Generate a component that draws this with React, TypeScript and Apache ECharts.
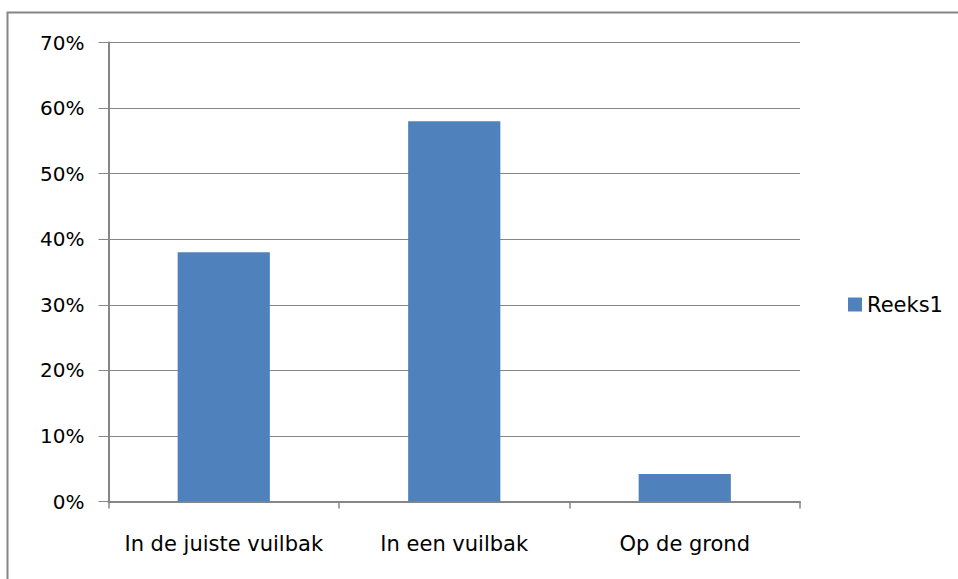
import React, { useEffect, useRef } from "react";
import * as echarts from "echarts";

const categories = ["In de juiste vuilbak", "In een vuilbak", "Op de grond"];
const seriesName = "Reeks1";
const values = [0.38, 0.58, 0.042];
const yMax = 0.7;
const yInterval = 0.1;

export default function App() {
  const ref = useRef<HTMLDivElement>(null);
  useEffect(() => {
    if (!ref.current) return;
    const chart = echarts.init(ref.current, undefined, { renderer: "svg" });
    const font = "DejaVu Sans";
    chart.setOption({
      animation: false,
      backgroundColor: "#ffffff",
      grid: { left: 108.5, right: 158, top: 42.5, bottom: 77.5, containLabel: false },
      legend: {
        data: [seriesName],
        left: 843,
        top: 289,
        icon: "rect",
        itemWidth: 14,
        itemHeight: 14,
        itemGap: 5,
        textStyle: { fontFamily: font, fontSize: 21, color: "#000" },
      },
      xAxis: {
        type: "category",
        data: categories,
        axisLine: { lineStyle: { color: "#868686", width: 2 } },
        axisTick: { show: true, interval: 0, length: 7, lineStyle: { color: "#868686", width: 1.5 } },
        axisLabel: { interval: 0, fontFamily: font, fontSize: 21, color: "#000", margin: 32 },
      },
      yAxis: {
        type: "value",
        min: 0,
        max: yMax,
        interval: yInterval,
        axisLine: { show: true, lineStyle: { color: "#868686", width: 2 } },
        axisTick: { show: true, length: 10, lineStyle: { color: "#868686", width: 1 } },
        splitLine: { show: true, lineStyle: { color: "#868686", width: 1 } },
        axisLabel: {
          fontFamily: font,
          fontSize: 20,
          color: "#000",
          margin: 24,
          formatter: (v: number) => Math.round(v * 100) + "%",
        },
      },
      series: [
        {
          name: seriesName,
          type: "bar",
          data: values,
          barWidth: "40%",
          itemStyle: { color: "#4F81BD" },
        },
      ],
      graphic: [
        {
          type: "rect",
          shape: { x: 7.5, y: 12.5, width: 1200, height: 1000 },
          style: { fill: "none", stroke: "#868686", lineWidth: 2 },
          silent: true,
        },
      ],
    });
    return () => chart.dispose();
  }, []);
  return (
    <div
      ref={ref}
      style={{ position: "absolute", left: 0, top: 0, width: 958, height: 579 }}
    />
  );
}
